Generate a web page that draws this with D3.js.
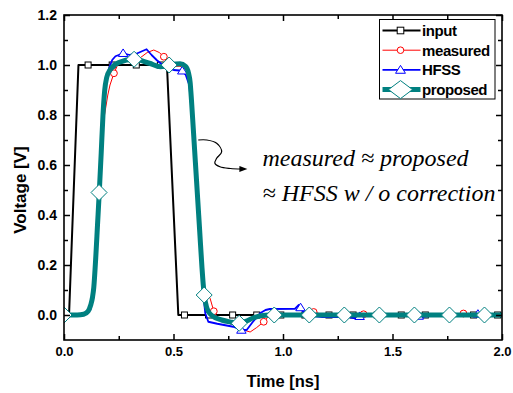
<!DOCTYPE html>
<html>
<head>
<meta charset="utf-8">
<script src="https://cdn.jsdelivr.net/npm/d3@7"></script>
<style>
  body { margin: 0; background: #fff; }
  text { font-family: "Liberation Sans", Arial, sans-serif; }
  text.note { font-family: "Liberation Serif", "Times New Roman", serif; font-style: italic; }
</style>
</head>
<body>
<div id="chart"></div>
<script>
// ---- data (time in ns, voltage in V) ----
const xTicks = [0, 0.5, 1.0, 1.5, 2.0];
const xMinor = [0.25, 0.75, 1.25, 1.75];
const yTicks = [0, 0.2, 0.4, 0.6, 0.8, 1.0, 1.2];
const yMinor = [0.1, 0.3, 0.5, 0.7, 0.9, 1.1];

const seriesNames = ['input', 'measured', 'HFSS', 'proposed'];

const inputLine = [[0, 0], [0.023, 0], [0.066, 1], [0.47, 1], [0.522, 0], [2, 0]];
const inputMarks = [[0, 0], [0.11, 1], [0.22, 1], [0.33, 1], [0.44, 1], [0.55, 0], [0.66, 0], [0.77, 0],
  [0.88, 0], [0.99, 0], [1.1, 0], [1.21, 0], [1.32, 0], [1.43, 0], [1.54, 0], [1.65, 0], [1.76, 0],
  [1.87, 0], [1.98, 0]];

const measuredLine = [[0, 0], [0.09, 0], [0.12, 0.02], [0.13, 0.07], [0.14, 0.18], [0.155, 0.42],
  [0.17, 0.65], [0.185, 0.8], [0.2, 0.88], [0.21, 0.92], [0.228, 0.967], [0.245, 1.0], [0.27, 1.02],
  [0.31, 1.025], [0.35, 1.03], [0.38, 1.05], [0.41, 1.06], [0.435, 1.05], [0.456, 1.033], [0.475, 1.005],
  [0.5, 0.995], [0.53, 0.995], [0.56, 0.98], [0.572, 0.93], [0.59, 0.74], [0.61, 0.47], [0.63, 0.2],
  [0.645, 0.09], [0.667, 0.067], [0.684, 0.015], [0.7, -0.01], [0.74, -0.03], [0.78, -0.04],
  [0.82, -0.06], [0.85, -0.068], [0.88, -0.05], [0.912, -0.027], [0.94, 0], [0.97, 0.005], [1.0, 0.005],
  [1.05, 0], [1.1, 0], [1.14, 0.012], [1.17, 0.005], [1.2, 0], [1.3, 0], [1.368, 0.003], [1.4, 0.005],
  [1.5, 0], [1.6, 0], [1.8, 0], [1.824, 0.006], [1.86, 0.003], [1.9, 0], [2, 0]];
const measuredMarks = [[0, 0], [0.228, 0.967], [0.456, 1.033], [0.684, 0.015], [0.912, -0.027],
  [1.14, 0.012], [1.368, 0.003], [1.596, 0], [1.824, 0.006]];

const hfssLine = [[0, 0], [0.09, 0], [0.12, 0.02], [0.13, 0.07], [0.14, 0.2], [0.155, 0.45], [0.17, 0.7],
  [0.185, 0.88], [0.195, 0.95], [0.205, 0.985], [0.22, 1.02], [0.235, 1.035], [0.27, 1.047], [0.3, 1.04],
  [0.33, 1.045], [0.377, 1.063], [0.4, 1.04], [0.423, 1.02], [0.45, 1.0], [0.47, 0.987], [0.5, 0.98],
  [0.54, 0.977], [0.556, 0.96], [0.572, 0.92], [0.59, 0.74], [0.61, 0.46], [0.63, 0.17], [0.64, 0.05],
  [0.645, 0.007], [0.659, -0.027], [0.7, -0.035], [0.773, -0.047], [0.81, -0.06], [0.834, -0.06],
  [0.86, -0.03], [0.895, 0.007], [0.92, 0.02], [0.94, 0.024], [1.055, 0.025], [1.072, 0.04],
  [1.085, 0.025], [1.1, 0], [1.18, -0.008], [1.3, -0.008], [1.336, -0.014], [1.35, -0.005], [1.4, 0],
  [1.6, 0], [1.64, -0.007], [1.7, 0], [1.87, 0], [1.885, 0.006], [1.9, 0], [2, 0]];
const hfssMarks = [[0, 0], [0.27, 1.047], [0.54, 0.977], [0.81, -0.06], [1.08, 0.03], [1.35, -0.005],
  [1.62, -0.004], [1.89, 0.004]];

const proposedLine = [[0, 0], [0.06, 0], [0.09, 0.003], [0.11, 0.015], [0.122, 0.04], [0.13, 0.07],
  [0.136, 0.11], [0.145, 0.23], [0.153, 0.36], [0.161, 0.49], [0.17, 0.65], [0.178, 0.8], [0.186, 0.9],
  [0.195, 0.95], [0.21, 0.98], [0.25, 1.01], [0.32, 1.023], [0.39, 1.007], [0.44, 0.993], [0.48, 1.0],
  [0.53, 1.005], [0.555, 0.995], [0.568, 0.97], [0.576, 0.93], [0.582, 0.86], [0.59, 0.75], [0.6, 0.61],
  [0.61, 0.47], [0.62, 0.33], [0.63, 0.19], [0.637, 0.11], [0.642, 0.07], [0.65, 0.035], [0.66, 0.013],
  [0.68, -0.005], [0.72, -0.02], [0.76, -0.028], [0.8, -0.033], [0.83, -0.025], [0.863, -0.012],
  [0.9, -0.003], [0.94, 0], [2, 0]];
const proposedMarks = [[0, 0], [0.16, 0.49], [0.32, 1.023], [0.48, 1.0], [0.64, 0.08], [0.8, -0.033],
  [0.96, 0], [1.12, 0], [1.28, 0], [1.44, 0], [1.6, 0], [1.76, 0], [1.92, 0]];

const noteLines = ['measured \u2248 proposed', '\u2248 HFSS w / o correction'];
// curly pointer from the proposed curve to the note, in data units
const pointer = [[0.613, 0.70], [0.652, 0.70], [0.697, 0.687], [0.72, 0.653], [0.697, 0.627],
  [0.689, 0.607], [0.712, 0.593], [0.76, 0.586], [0.81, 0.584]];

// ---- layout ----
const W = 513, H = 393;
const plot = { left: 64, right: 502, top: 15, bottom: 340 };

const x = d3.scaleLinear().domain([0, 2]).range([plot.left, plot.right]);
const y = d3.scaleLinear().domain([-0.1, 1.2]).range([plot.bottom, plot.top]);

const svg = d3.select('#chart').append('svg')
  .attr('width', W)
  .attr('height', H);

svg.append('rect').attr('width', W).attr('height', H).attr('fill', '#fff');

const defs = svg.append('defs');
defs.append('clipPath').attr('id', 'clip')
  .append('rect')
  .attr('x', plot.left).attr('y', plot.top)
  .attr('width', plot.right - plot.left).attr('height', plot.bottom - plot.top);

defs.append('marker')
  .attr('id', 'arrow')
  .attr('markerUnits', 'userSpaceOnUse')
  .attr('markerWidth', 10).attr('markerHeight', 8)
  .attr('refX', 2).attr('refY', 3)
  .attr('orient', 'auto')
  .append('path')
  .attr('d', 'M0,0 L8,3 L0,6 Z')
  .attr('fill', '#000');

// marker shapes
const shapes = {
  square: (g, s) => g.append('rect').attr('x', -s).attr('y', -s).attr('width', 2 * s).attr('height', 2 * s),
  circle: (g, s) => g.append('circle').attr('r', s),
  triangle: (g, s) => g.append('path').attr('d', `M0,${-s} L${s * 1.1},${s * 0.75} L${-s * 1.1},${s * 0.75} Z`),
  diamond: (g, s, sx) => g.append('path').attr('d', `M0,${-s} L${sx || s},0 L0,${s} L${-(sx || s)},0 Z`)
};

const series = [
  { name: seriesNames[0], line: inputLine, marks: inputMarks, color: '#000', width: 2, shape: 'square', size: 3, legendSize: 3.3 },
  { name: seriesNames[1], line: measuredLine, marks: measuredMarks, color: '#ff0000', width: 1, shape: 'circle', size: 3.4, legendSize: 3.3 },
  { name: seriesNames[2], line: hfssLine, marks: hfssMarks, color: '#0000ff', width: 1.8, shape: 'triangle', size: 4.3, legendSize: 4.5 },
  { name: seriesNames[3], line: proposedLine, marks: proposedMarks, color: '#008080', width: 5, shape: 'diamond', size: 8, legendSize: 9, legendSx: 12, curve: d3.curveMonotoneX }
];

const plotG = svg.append('g').attr('clip-path', 'url(#clip)');

series.forEach(s => {
  const line = d3.line()
    .x(d => x(d[0]))
    .y(d => y(d[1]))
    .curve(s.curve || d3.curveLinear);

  plotG.append('path')
    .datum(s.line)
    .attr('fill', 'none')
    .attr('stroke', s.color)
    .attr('stroke-width', s.width)
    .attr('stroke-linejoin', 'round')
    .attr('d', line);

  plotG.selectAll(null)
    .data(s.marks)
    .enter()
    .append('g')
    .attr('transform', d => `translate(${x(d[0])},${y(d[1])})`)
    .each(function () {
      shapes[s.shape](d3.select(this), s.size)
        .attr('fill', '#fff')
        .attr('stroke', s.color)
        .attr('stroke-width', 1);
    });
});

// ---- axes (ticks point inwards on all four sides) ----
const styleAxis = (g, fontSize) => {
  g.select('.domain').remove();
  g.selectAll('line').attr('stroke', '#000').attr('stroke-width', 1.5);
  g.selectAll('text')
    .attr('fill', '#000')
    .attr('font-size', fontSize)
    .attr('font-weight', 'bold');
};
const fmt = d3.format('.1f');

svg.append('g').attr('transform', `translate(0,${plot.bottom})`)
  .call(d3.axisBottom(x).tickValues(xTicks).tickFormat(fmt).tickSizeInner(-6).tickSizeOuter(0).tickPadding(7))
  .call(g => styleAxis(g, 13));
svg.append('g').attr('transform', `translate(0,${plot.bottom})`)
  .call(d3.axisBottom(x).tickValues(xMinor).tickFormat('').tickSizeInner(-4).tickSizeOuter(0))
  .call(g => styleAxis(g, 13));
svg.append('g').attr('transform', `translate(0,${plot.top})`)
  .call(d3.axisTop(x).tickValues(xTicks).tickFormat('').tickSizeInner(-6).tickSizeOuter(0))
  .call(g => styleAxis(g, 13));
svg.append('g').attr('transform', `translate(0,${plot.top})`)
  .call(d3.axisTop(x).tickValues(xMinor).tickFormat('').tickSizeInner(-4).tickSizeOuter(0))
  .call(g => styleAxis(g, 13));

svg.append('g').attr('transform', `translate(${plot.left},0)`)
  .call(d3.axisLeft(y).tickValues(yTicks).tickFormat(fmt).tickSizeInner(-6).tickSizeOuter(0).tickPadding(7))
  .call(g => styleAxis(g, 14));
svg.append('g').attr('transform', `translate(${plot.left},0)`)
  .call(d3.axisLeft(y).tickValues(yMinor).tickFormat('').tickSizeInner(-4).tickSizeOuter(0))
  .call(g => styleAxis(g, 14));
svg.append('g').attr('transform', `translate(${plot.right},0)`)
  .call(d3.axisRight(y).tickValues(yTicks).tickFormat('').tickSizeInner(-6).tickSizeOuter(0))
  .call(g => styleAxis(g, 14));
svg.append('g').attr('transform', `translate(${plot.right},0)`)
  .call(d3.axisRight(y).tickValues(yMinor).tickFormat('').tickSizeInner(-4).tickSizeOuter(0))
  .call(g => styleAxis(g, 14));

// frame
svg.append('rect')
  .attr('x', plot.left).attr('y', plot.top)
  .attr('width', plot.right - plot.left).attr('height', plot.bottom - plot.top)
  .attr('fill', 'none')
  .attr('stroke', '#000')
  .attr('stroke-width', 1.6);

// axis titles
svg.append('text')
  .attr('x', (plot.left + plot.right) / 2)
  .attr('y', 387)
  .attr('text-anchor', 'middle')
  .attr('font-size', 16.5)
  .attr('font-weight', 'bold')
  .text('Time [ns]');

svg.append('text')
  .attr('transform', 'translate(26,190) rotate(-90)')
  .attr('text-anchor', 'middle')
  .attr('font-size', 17)
  .attr('font-weight', 'bold')
  .text('Voltage [V]');

// ---- annotation ----
svg.append('path')
  .datum(pointer)
  .attr('fill', 'none')
  .attr('stroke', '#000')
  .attr('stroke-width', 1.2)
  .attr('marker-end', 'url(#arrow)')
  .attr('d', d3.line().x(d => x(d[0])).y(d => y(d[1])).curve(d3.curveCatmullRom));

svg.selectAll('.note')
  .data(noteLines)
  .enter()
  .append('text')
  .attr('class', 'note')
  .attr('x', 262.5)
  .attr('y', (d, i) => 165.5 + i * 35.5)
  .attr('font-size', 24)
  .text(d => d);

// ---- legend ----
const legend = svg.append('g').attr('transform', 'translate(379.5,19.5)');
legend.append('rect')
  .attr('width', 115.5).attr('height', 79.5)
  .attr('fill', '#fff')
  .attr('stroke', '#000')
  .attr('stroke-width', 1);

const rows = legend.selectAll('.row')
  .data(series)
  .enter()
  .append('g')
  .attr('class', 'row')
  .attr('transform', (d, i) => `translate(0,${11 + i * 19.7})`);

rows.append('line')
  .attr('x1', 3).attr('x2', 41)
  .attr('stroke', d => d.color)
  .attr('stroke-width', d => d.width);

rows.append('g')
  .attr('transform', 'translate(21,0)')
  .each(function (d) {
    shapes[d.shape](d3.select(this), d.legendSize, d.legendSx)
      .attr('fill', '#fff')
      .attr('stroke', d.color)
      .attr('stroke-width', 1);
  });

rows.append('text')
  .attr('x', 42.5)
  .attr('dy', '0.36em')
  .attr('font-size', 15)
  .attr('font-weight', 'bold')
  .attr('letter-spacing', -0.4)
  .text(d => d.name);
</script>
</body>
</html>
